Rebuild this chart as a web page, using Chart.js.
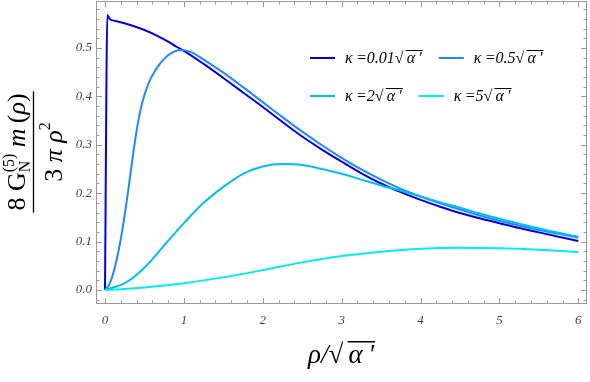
<!DOCTYPE html>
<html>
<head>
<meta charset="utf-8">
<script src="https://cdn.jsdelivr.net/npm/chart.js@4.4.1/dist/chart.umd.min.js"></script>
<style>
  html, body { margin: 0; padding: 0; background: #fff; }
</style>
</head>
<body>
<canvas id="chart" width="590" height="382"></canvas>
<script>
//---------------------------------------
// Data
//---------------------------------------

// kappa values for the legend (in units of sqrt(alpha'))
const kappa_labels = ['0.01', '0.5', '2', '5'];
const line_colors = ['#0000ee', '#1e88ff', '#00bff0', '#00eeee'];

// kappa = 0.01
const rho_a = [0, 0.03, 0.06, 0.1, 0.2, 0.35, 0.5, 0.65, 0.8, 0.9, 1.0, 1.25, 1.5, 1.75, 2.0, 2.25, 2.5, 2.75, 3.0, 3.25, 3.5, 3.75, 4.0, 4.25, 4.5, 4.75, 5.0, 5.25, 5.5, 5.75, 6.0];
const val_a = [0, 0.568, 0.560, 0.557, 0.553, 0.546, 0.537, 0.526, 0.513, 0.503, 0.494, 0.467, 0.438, 0.408, 0.378, 0.347, 0.317, 0.290, 0.265, 0.241, 0.220, 0.202, 0.186, 0.172, 0.159, 0.148, 0.138, 0.128, 0.119, 0.110, 0.101];

// kappa = 0.5
const rho_b = [0, 0.05, 0.1, 0.15, 0.2, 0.25, 0.3, 0.35, 0.4, 0.45, 0.5, 0.55, 0.6, 0.7, 0.8, 0.9, 0.95, 1.0, 1.1, 1.25, 1.5, 1.75, 2.0, 2.25, 2.5, 2.75, 3.0, 3.25, 3.5, 3.75, 4.0, 4.25, 4.5, 4.75, 5.0, 5.25, 5.5, 5.75, 6.0];
const val_b = [0, 0.010, 0.032, 0.064, 0.105, 0.155, 0.212, 0.273, 0.328, 0.372, 0.403, 0.426, 0.443, 0.468, 0.485, 0.494, 0.496, 0.4955, 0.491, 0.476, 0.449, 0.419, 0.388, 0.357, 0.327, 0.299, 0.273, 0.249, 0.228, 0.209, 0.193, 0.179, 0.166, 0.154, 0.143, 0.133, 0.124, 0.116, 0.108];

// kappa = 2
const rho_c = [0, 0.25, 0.5, 0.75, 1.0, 1.25, 1.5, 1.75, 2.0, 2.25, 2.5, 2.75, 3.0, 3.25, 3.5, 3.75, 4.0, 4.25, 4.5, 4.75, 5.0, 5.25, 5.5, 5.75, 6.0];
const val_c = [0, 0.014, 0.046, 0.092, 0.138, 0.180, 0.213, 0.240, 0.255, 0.260, 0.258, 0.250, 0.240, 0.228, 0.216, 0.205, 0.193, 0.181, 0.170, 0.158, 0.147, 0.137, 0.127, 0.118, 0.110];

// kappa = 5
const rho_d = [0, 0.25, 0.5, 0.75, 1.0, 1.5, 2.0, 2.5, 3.0, 3.5, 4.0, 4.5, 5.0, 5.5, 6.0];
const val_d = [0, 0.002, 0.005, 0.009, 0.014, 0.026, 0.041, 0.057, 0.070, 0.079, 0.085, 0.087, 0.086, 0.083, 0.078];

// axes
const x_min = -0.114, x_max = 6.11;
const y_min = -0.029, y_max = 0.597;

//---------------------------------------
// Plugins
//---------------------------------------

const serif = "'Liberation Serif', 'DejaVu Serif', serif";

function to_points(xs, ys) {
  return xs.map((x, i) => ({x: x, y: ys[i]}));
}

// frame + inward ticks on all four sides (Mathematica style)
const frame_plugin = {
  id: 'frame',
  afterDraw(chart) {
    const ctx = chart.ctx;
    const a = chart.chartArea;
    const sx = chart.scales.x, sy = chart.scales.y;
    ctx.save();
    ctx.strokeStyle = '#999';
    ctx.lineWidth = 1;
    ctx.strokeRect(a.left + 0.5, a.top + 0.5, a.right - a.left - 1, a.bottom - a.top - 1);

    ctx.beginPath();
    for (let k = -1; k <= 31; k++) {
      const v = k * 0.2;
      if (v < x_min || v > x_max) continue;
      const len = (k % 5 === 0) ? 6 : 3.5;
      const px = Math.round(sx.getPixelForValue(v)) + 0.5;
      ctx.moveTo(px, a.bottom); ctx.lineTo(px, a.bottom - len);
      ctx.moveTo(px, a.top); ctx.lineTo(px, a.top + len);
    }
    for (let k = -1; k <= 29; k++) {
      const v = k * 0.02;
      if (v < y_min || v > y_max) continue;
      const len = (k % 5 === 0) ? 6 : 3.5;
      const py = Math.round(sy.getPixelForValue(v)) + 0.5;
      ctx.moveTo(a.left, py); ctx.lineTo(a.left + len, py);
      ctx.moveTo(a.right, py); ctx.lineTo(a.right - len, py);
    }
    ctx.stroke();
    ctx.restore();
  }
};

// draws text with an overline over the part after the radical sign
function sqrt_text(ctx, before, under, x, y, lw) {
  ctx.fillText(before + under, x, y);
  const w0 = ctx.measureText(before).width;
  const w1 = ctx.measureText(before + under).width;
  const asc = ctx.measureText('\u221A').actualBoundingBoxAscent;
  ctx.beginPath();
  ctx.lineWidth = lw || 1;
  ctx.moveTo(x + w0 - 1, y - asc + ctx.lineWidth / 2);
  ctx.lineTo(x + w1 + 1, y - asc + ctx.lineWidth / 2);
  ctx.stroke();
  return w1;
}

const legend_plugin = {
  id: 'legend_box',
  afterDraw(chart) {
    const ctx = chart.ctx;
    ctx.save();
    ctx.font = 'italic 16px ' + serif;
    ctx.fillStyle = '#000';
    ctx.strokeStyle = '#000';
    const rows = [[0, 1], [2, 3]];
    const row_y = [58, 96];
    rows.forEach((row, r) => {
      let x = 310;
      row.forEach(i => {
        ctx.save();
        ctx.strokeStyle = line_colors[i];
        ctx.lineWidth = 2;
        ctx.beginPath();
        ctx.moveTo(x, row_y[r]); ctx.lineTo(x + 25, row_y[r]);
        ctx.stroke();
        ctx.restore();
        const w = sqrt_text(ctx, '\u03BA\u2009=' + kappa_labels[i] + '\u221A\u2009', '\u03B1\u2009\u2032', x + 35, row_y[r] + 5);
        x += 35 + w + 17;
      });
    });
    ctx.restore();
  }
};

// axis titles
const title_plugin = {
  id: 'axis_titles',
  afterDraw(chart) {
    const ctx = chart.ctx;
    ctx.save();
    ctx.fillStyle = '#000';
    ctx.strokeStyle = '#000';

    // x title: rho / sqrt(alpha')
    ctx.font = 'italic 27px ' + serif;
    const xt_before = '\u03C1/\u221A\u2009', xt_under = '\u03B1\u2009\u2032';
    const xw = ctx.measureText(xt_before + xt_under).width;
    sqrt_text(ctx, xt_before, xt_under, 341 - xw / 2, 363, 1.5);

    // y title: fraction, rotated
    ctx.translate(33, 152);
    ctx.rotate(-Math.PI / 2);
    const num = [
      {t: '8 G', f: '26px ' + serif, dy: 0},
      {t: 'N', f: '16px ' + serif, dy: 5},
      {t: '(5)', f: '16px ' + serif, dy: -11, back: true},
      {t: ' m', f: 'italic 26px ' + serif, dy: 0},
      {t: '\u2009(', f: '26px ' + serif, dy: 0},
      {t: '\u03C1', f: 'italic 26px ' + serif, dy: 0},
      {t: ')', f: '26px ' + serif, dy: 0}
    ];
    const den = [
      {t: '3 ', f: '26px ' + serif, dy: 0},
      {t: '\u03C0 ', f: 'italic 26px ' + serif, dy: 0},
      {t: '\u03C1', f: 'italic 26px ' + serif, dy: 0},
      {t: '2', f: '16px ' + serif, dy: -12}
    ];
    function draw_parts(parts, base) {
      let w = 0, last_w = 0;
      parts.forEach(p => {
        ctx.font = p.f;
        const pw = ctx.measureText(p.t).width;
        if (p.back) { w = w - last_w + Math.max(last_w, pw); p.x = w - Math.max(last_w, pw); }
        else { p.x = w; w += pw; }
        last_w = pw;
      });
      parts.forEach(p => {
        ctx.font = p.f;
        ctx.fillText(p.t, p.x - w / 2, base + p.dy);
      });
      return w;
    }
    const nw = draw_parts(num, -8);
    draw_parts(den, 29);
    ctx.lineWidth = 1.3;
    ctx.beginPath();
    ctx.moveTo(-nw / 2 - 2, 0.5);
    ctx.lineTo(nw / 2 + 2, 0.5);
    ctx.stroke();
    ctx.restore();
  }
};

//---------------------------------------
// Chart
//---------------------------------------

const series = [[rho_a, val_a], [rho_b, val_b], [rho_c, val_c], [rho_d, val_d]];

const datasets = series.map((s, i) => ({
  label: '\u03BA=' + kappa_labels[i] + '\u221A\u03B1\u2032',
  data: to_points(s[0], s[1]),
  borderColor: line_colors[i],
  borderWidth: 2,
  pointRadius: 0,
  fill: false,
  cubicInterpolationMode: 'monotone',
  order: 4 - i
}));

const tick_font = {family: serif, style: 'italic', size: 13};

new Chart(document.getElementById('chart'), {
  type: 'line',
  data: {datasets: datasets},
  options: {
    responsive: false,
    animation: false,
    layout: {padding: {top: 1, right: 3, left: 0, bottom: 0}},
    plugins: {
      legend: {display: false},
      tooltip: {enabled: false}
    },
    scales: {
      x: {
        type: 'linear',
        min: x_min,
        max: x_max,
        grid: {display: false, drawTicks: false},
        border: {display: false},
        ticks: {
          stepSize: 1,
          includeBounds: false,
          maxRotation: 0,
          padding: 9,
          color: '#444',
          font: tick_font,
          callback: v => Number.isInteger(v) ? String(v) : ''
        },
        afterFit: s => { s.height = 78; s.paddingLeft = 0; s.paddingRight = 0; }
      },
      y: {
        type: 'linear',
        min: y_min,
        max: y_max,
        grid: {display: false, drawTicks: false},
        border: {display: false},
        ticks: {
          stepSize: 0.1,
          includeBounds: false,
          padding: 4,
          color: '#444',
          font: tick_font,
          callback: v => v.toFixed(1)
        },
        afterFit: s => { s.width = 96; s.paddingTop = 0; s.paddingBottom = 0; }
      }
    }
  },
  plugins: [frame_plugin, legend_plugin, title_plugin]
});
</script>
</body>
</html>
